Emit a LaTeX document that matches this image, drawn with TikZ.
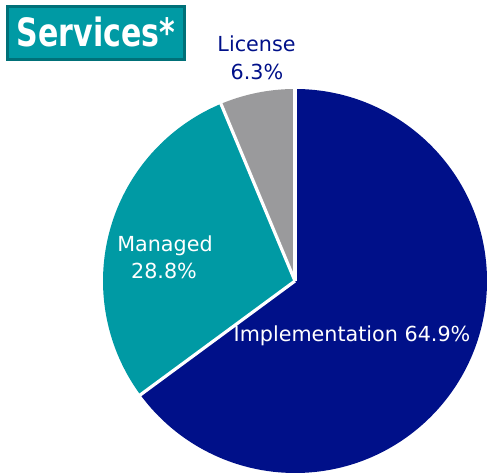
\documentclass[tikz,border=0pt]{standalone}
\usepackage{fontspec}
\usetikzlibrary{calc}
\setmainfont{DejaVu Sans}
\newfontfamily\titlefont[FakeStretch=0.77]{DejaVu Sans}
\definecolor{navy}{RGB}{0,16,137}
\definecolor{teal1}{RGB}{0,154,164}
\definecolor{teal2}{RGB}{0,112,120}
\definecolor{gray1}{RGB}{154,154,156}
\tikzset{
  lbl/.style={inner sep=0pt, anchor=base, font=\fontsize{20.7bp}{25bp}\selectfont},
  sep/.style={draw=white, line width=3.2bp},
}
\begin{document}
\begin{tikzpicture}[x=1bp,y=1bp]
\useasboundingbox (0,0) rectangle (487,474);
\coordinate (c) at (295,193);
\def\R{192}
% slices
\fill[navy] (c) -- ++(90:\R) arc[start angle=90, end angle=-143.64, radius=\R] -- cycle;
\fill[teal1] (c) -- ++(216.36:\R) arc[start angle=216.36, end angle=112.68, radius=\R] -- cycle;
\fill[gray1] (c) -- ++(112.68:\R) arc[start angle=112.68, end angle=90, radius=\R] -- cycle;
% separators
\coordinate (b1) at ($(c)+(90:\R+2)$);
\coordinate (b2) at ($(c)+(216.36:\R+2)$);
\coordinate (b3) at ($(c)+(112.68:\R+2)$);
\draw[sep] (c) -- (b1);
\draw[sep] (c) -- (b2);
\draw[sep] (c) -- (b3);
% labels
\node[lbl, text=navy] (lic1) at (256.5,422) {License};
\node[lbl, text=navy] (lic2) at (257,394) {6.3\%};
\node[lbl, text=white] (man1) at (165,222) {Managed};
\node[lbl, text=white] (man2) at (164,195) {28.8\%};
\node[lbl, text=white] (imp) at (352,132) {Implementation 64.9\%};
% title
\draw[fill=teal1, draw=teal2, line width=3bp] (7.5,414.5) rectangle (184.5,467.5);
\node[inner sep=0pt, anchor=base, text=white, font=\titlefont\bfseries\fontsize{39bp}{44bp}\selectfont] (title) at (96,427) {Services*};
\end{tikzpicture}
\end{document}
